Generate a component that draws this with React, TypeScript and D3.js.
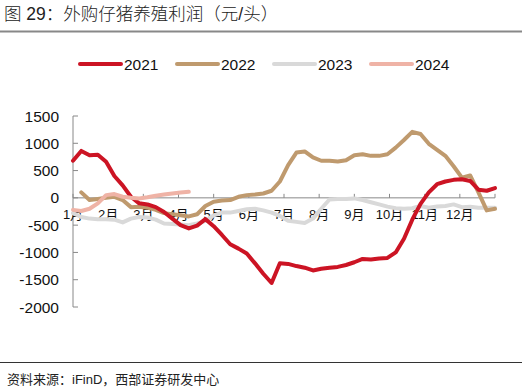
import * as d3 from "d3";

const W = 526;
const H = 392;

const months = ["1月", "2月", "3月", "4月", "5月", "6月", "7月", "8月", "9月", "10月", "11月", "12月"];
const yTicks = [1500, 1000, 500, 0, -500, -1000, -1500, -2000];
const years = ["2021", "2022", "2023", "2024"];
const colors = ["#cc1424", "#bf9a6e", "#d9d9d9", "#efb3a6"];

// weekly profit, 元/头
const v2021 = [680, 860, 780, 790, 660, 400, 230, 20, -100, -120, -170, -260, -380, -500, -560, -510,
  -390, -520, -680, -850, -930, -1020, -1200, -1390, -1560, -1200, -1210, -1250, -1280, -1330, -1300,
  -1280, -1265, -1230, -1180, -1120, -1130, -1110, -1100, -1000, -750, -400, -110, 100, 250, 300, 330,
  340, 310, 150, 130, 180];
const v2022 = [null, 100, -40, -20, 0, 20, -40, -170, -165, -180, -220, -280, -300, -320, -340, -300,
  -150, -70, -50, -40, 20, 50, 60, 80, 130, 300, 600, 830, 850, 740, 680, 680, 665, 690, 780, 800, 770,
  770, 800, 920, 1060, 1210, 1170, 990, 880, 770, 580, 370, 410, 100, -230, -200];
const v2023 = [-280, -350, -380, -390, -390, -400, -450, -380, -350, -360, -400, -470, -480, -490, -500,
  -470, -420, -320, -270, -270, -240, -210, -200, -230, -270, -330, -420, -440, -460, -380, -200, -30,
  -20, -20, -10, -40, -80, -120, -160, -190, -200, -190, -150, -180, -160, -150, -120, -170, -165, -180,
  -180, -180];
const v2024 = [-220, -240, -200, -100, 50, 70, 20, 0, -10, 10, 40, 60, 80, 100, 110];

const series = [v2021, v2022, v2023, v2024];

const font = "'Liberation Sans', Arial, 'Noto Sans CJK SC', sans-serif";

export default function App() {
  const y = d3.scaleLinear().domain([-2000, 1500]).range([307, 116]);
  const xm = d3.scaleLinear().domain([0, 12]).range([73, 495]);
  const xw = d3.scaleLinear().domain([0, 51]).range([73, 495]);

  const line = d3
    .line<number | null>()
    .defined((d) => d !== null)
    .x((_, i) => xw(i))
    .y((d) => y(d as number));

  const legendX = [80, 177, 274, 371];

  return (
    <svg
      width={W}
      height={H}
      style={{ position: "absolute", left: 0, top: 0, background: "#fff" }}
      fontFamily={font}
    >
      <text x={4} y={20} fontSize={17.5} fill="#222" fontWeight={300}>
        图 29：外购仔猪养殖利润（元/头）
      </text>
      <line x1={0} x2={522} y1={31.5} y2={31.5} stroke="#888" strokeWidth={2} />

      {years.map((yr, i) => (
        <g key={yr}>
          <line
            x1={legendX[i]}
            x2={legendX[i] + 41}
            y1={64}
            y2={64}
            stroke={colors[i]}
            strokeWidth={4}
            strokeLinecap="round"
          />
          <text x={legendX[i] + 44} y={69.5} fontSize={15.5} fill="#111">
            {yr}
          </text>
        </g>
      ))}

      {/* y axis */}
      <line x1={73} x2={73} y1={y(1500)} y2={y(-2000)} stroke="#888" strokeWidth={1} />
      {yTicks.map((t) => (
        <g key={t}>
          <line x1={73} x2={78} y1={y(t)} y2={y(t)} stroke="#888" strokeWidth={1} />
          <text x={59} y={y(t) + 5.5} fontSize={15.5} textAnchor="end" fill="#111">
            {t}
          </text>
        </g>
      ))}

      {/* x axis at zero */}
      <line x1={73} x2={495} y1={y(0)} y2={y(0)} stroke="#888" strokeWidth={1} />
      {d3.range(13).map((i) => (
        <line key={i} x1={xm(i)} x2={xm(i)} y1={y(0)} y2={y(0) - 4} stroke="#888" strokeWidth={1} />
      ))}
      {months.map((m, i) => (
        <text key={m} x={xm(i)} y={219} fontSize={13} textAnchor="middle" fill="#111">
          {m}
        </text>
      ))}

      {[2, 1, 0, 3].map((k) => (
        <path
          key={k}
          d={line(series[k]) || ""}
          fill="none"
          stroke={colors[k]}
          strokeWidth={4}
          strokeLinejoin="round"
          strokeLinecap="round"
        />
      ))}

      <line x1={0} x2={522} y1={362.5} y2={362.5} stroke="#333" strokeWidth={1} />
      <text x={7} y={384} fontSize={13} fill="#222">
        资料来源：iFinD，西部证券研发中心
      </text>
    </svg>
  );
}
